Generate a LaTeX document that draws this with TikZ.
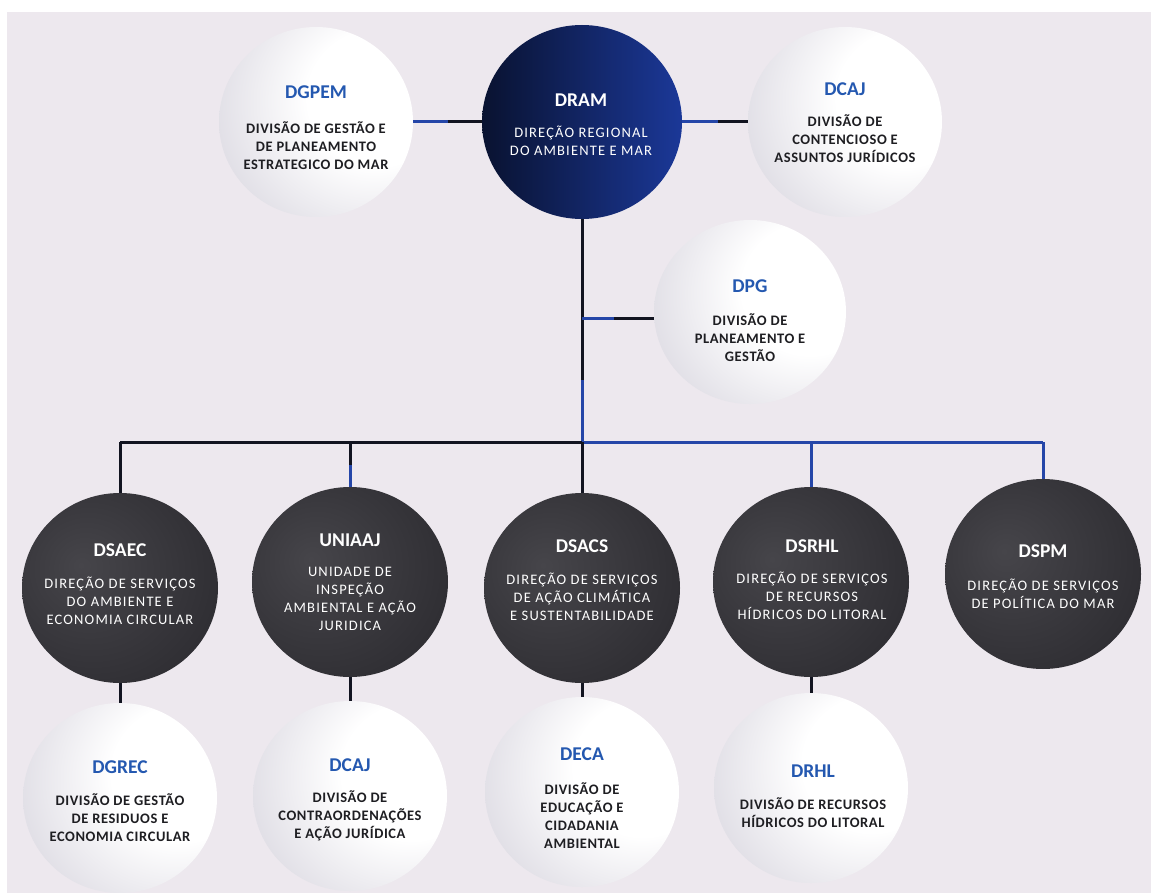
\documentclass[tikz,border=0pt]{standalone}
\usepackage{fontspec}
\setmainfont{Carlito}
\newfontfamily\spacedfont{Carlito}[LetterSpace=8]
\newfontfamily\spacedbold{Carlito Bold}[LetterSpace=4]
\usetikzlibrary{shapes.geometric,calc,backgrounds}
\definecolor{panel}{HTML}{EDE8EE}
\definecolor{ttlblue}{HTML}{2458B0}
\definecolor{lineblue}{HTML}{2546A8}
\definecolor{lineblack}{HTML}{121420}
\definecolor{deschark}{HTML}{1E1E22}
\definecolor{lg0}{HTML}{FFFFFF}
\definecolor{lg1}{HTML}{DDDBE3}
\definecolor{lg2}{HTML}{B9B7C2}
\definecolor{dk0}{HTML}{46454A}
\definecolor{dk1}{HTML}{313035}
\definecolor{dk2}{HTML}{1C1B1F}
\definecolor{nv0}{HTML}{091230}
\definecolor{nv1}{HTML}{0F2466}
\definecolor{nv2}{HTML}{1B3898}
\pgfdeclareradialshading{lightball}{\pgfpoint{20bp}{8bp}}{color(0bp)=(lg0); color(18bp)=(lg0); color(40bp)=(lg1); color(62bp)=(lg2); color(85bp)=(lg2)}
\pgfdeclareradialshading{darkball}{\pgfpoint{-10bp}{6bp}}{color(0bp)=(dk0); color(30bp)=(dk1); color(60bp)=(dk2); color(80bp)=(dk2)}
\tikzset{
  lightcirc/.style={ellipse, minimum width=194pt, minimum height=190pt, inner sep=0pt, shading=lightball},
  darkcirc/.style={ellipse, minimum width=196pt, minimum height=190pt, inner sep=0pt, shading=darkball},
  navycirc/.style={ellipse, minimum width=200pt, minimum height=194pt, inner sep=0pt, left color=nv0, middle color=nv1, right color=nv2},
  ttlblue/.style={text=ttlblue, font=\fontsize{19.5}{22}\selectfont\bfseries, inner sep=0pt},
  ttlwhite/.style={text=white, font=\fontsize{19.5}{22}\selectfont\bfseries, inner sep=0pt},
  desclight/.style={text=deschark, align=center, font=\fontsize{14.5}{18}\spacedbold, inner sep=0pt},
  descdark/.style={text=white, align=center, font=\fontsize{14.5}{18.2}\spacedfont, inner sep=0pt},
  bline/.style={draw=lineblack, line width=3pt},
  uline/.style={draw=lineblue, line width=3pt},
}
\begin{document}
\begin{tikzpicture}[x=1pt,y=-1pt]
\useasboundingbox (0,0) rectangle (1151,893);

% top row
\node[lightcirc] (dgpemC) at (316,122) {};
\node[navycirc] (dramC) at (582,122) {};
\node[lightcirc] (dcajC) at (845,122) {};
\node[lightcirc, minimum width=192pt, minimum height=184pt] (dpgC) at (750,312) {};

\node[ttlblue] (dgpemT) at (316,92) {DGPEM};
\node[desclight] (dgpemD) at (316,146) {DIVISÃO DE GESTÃO E\\DE PLANEAMENTO\\ESTRATEGICO DO MAR};
\node[ttlwhite] (dramT) at (581,100) {DRAM};
\node[descdark] (dramD) at (581,141) {DIREÇÃO REGIONAL\\DO AMBIENTE E MAR};
\node[ttlblue] (dcajT) at (845,89) {DCAJ};
\node[desclight] (dcajD) at (845,139) {DIVISÃO DE\\CONTENCIOSO E\\ASSUNTOS JURÍDICOS};
\node[ttlblue] (dpgT) at (750,286) {DPG};
\node[desclight] (dpgD) at (750,338) {DIVISÃO DE\\PLANEAMENTO E\\GESTÃO};

% second row (dark)
\node[darkcirc] (dsaecC) at (120,588) {};
\node[darkcirc] (uniaajC) at (350,582) {};
\node[darkcirc] (dsacsC) at (582,588) {};
\node[darkcirc] (dsrhlC) at (811,582) {};
\node[darkcirc] (dspmC) at (1043,574) {};

\node[ttlwhite] (dsaecT) at (120,550) {DSAEC};
\node[descdark] (dsaecD) at (120,601) {DIREÇÃO DE SERVIÇOS\\DO AMBIENTE E\\ECONOMIA CIRCULAR};
\node[ttlwhite] (uniaajT) at (350,540) {UNIAAJ};
\node[descdark] (uniaajD) at (350,599) {UNIDADE DE\\INSPEÇÃO\\AMBIENTAL E AÇÃO\\JURIDICA};
\node[ttlwhite] (dsacsT) at (582,546) {DSACS};
\node[descdark] (dsacsD) at (582,597) {DIREÇÃO DE SERVIÇOS\\DE AÇÃO CLIMÁTICA\\E SUSTENTABILIDADE};
\node[ttlwhite] (dsrhlT) at (812,546) {DSRHL};
\node[descdark] (dsrhlD) at (812,596) {DIREÇÃO DE SERVIÇOS\\DE RECURSOS\\HÍDRICOS DO LITORAL};
\node[ttlwhite] (dspmT) at (1043,551) {DSPM};
\node[descdark] (dspmD) at (1043,594) {DIREÇÃO DE SERVIÇOS\\DE POLÍTICA DO MAR};

% third row (light)
\node[lightcirc] (dgrecC) at (120,798) {};
\node[lightcirc] (dcaj2C) at (350,796) {};
\node[lightcirc] (decaC) at (582,792) {};
\node[lightcirc] (drhlC) at (811,788) {};

\node[ttlblue] (dgrecT) at (120,767) {DGREC};
\node[desclight] (dgrecD) at (120,818) {DIVISÃO DE GESTÃO\\DE RESIDUOS E\\ECONOMIA CIRCULAR};
\node[ttlblue] (dcaj2T) at (350,765) {DCAJ};
\node[desclight] (dcaj2D) at (350,816) {DIVISÃO DE\\CONTRAORDENAÇÕES\\E AÇÃO JURÍDICA};
\node[ttlblue] (decaT) at (582,754) {DECA};
\node[desclight] (decaD) at (582,815.5) {DIVISÃO DE\\EDUCAÇÃO E\\CIDADANIA\\AMBIENTAL};
\node[ttlblue] (drhlT) at (813,771) {DRHL};
\node[desclight] (drhlD) at (813,813) {DIVISÃO DE RECURSOS\\HÍDRICOS DO LITORAL};

% joints of the connectors
\coordinate (bus) at (582,442);
\coordinate (busL) at (120,442);
\coordinate (busR) at (1043,442);
\coordinate (dpgJ) at (582,318);
\coordinate (trunkMid) at (582,380);
\coordinate (uniJ) at (350,465);

\begin{pgfonlayer}{background}
\fill[white] (0,0) rectangle (1151,893);
\fill[panel] (7,12) rectangle (1151,893);
% top connectors
\draw[uline] (dgpemC.east) -- ($(dgpemC.east)!0.5!(dramC.west)$);
\draw[bline] ($(dgpemC.east)!0.5!(dramC.west)$) -- (dramC.west);
\draw[uline] (dramC.east) -- ($(dramC.east)!0.55!(dcajC.west)$);
\draw[bline] ($(dramC.east)!0.55!(dcajC.west)$) -- (dcajC.west);
% trunk and DPG branch
\draw[bline] (dramC.south) -- (trunkMid);
\draw[uline] (trunkMid) -- (bus);
\draw[uline] (dpgJ) -- ($(dpgJ)!0.45!(dpgC.west |- dpgJ)$);
\draw[bline] ($(dpgJ)!0.45!(dpgC.west |- dpgJ)$) -- (dpgC.west |- dpgJ);
% bus
\draw[bline] (busL) -- (bus);
\draw[uline] (bus) -- (busR);
% drops to the second row
\draw[bline] (busL) -- (dsaecC.north);
\draw[bline] (uniaajC.north |- bus) -- (uniJ);
\draw[uline] (uniJ) -- (uniaajC.north);
\draw[bline] (bus) -- (dsacsC.north);
\draw[uline] (dsrhlC.north |- bus) -- (dsrhlC.north);
\draw[uline] (busR) -- (dspmC.north);
% stubs to the third row
\draw[bline] (dsaecC.south) -- (dgrecC.north);
\draw[bline] (uniaajC.south) -- (dcaj2C.north);
\draw[bline] (dsacsC.south) -- (decaC.north);
\draw[bline] (dsrhlC.south) -- (drhlC.north);
\end{pgfonlayer}
\end{tikzpicture}
\end{document}
